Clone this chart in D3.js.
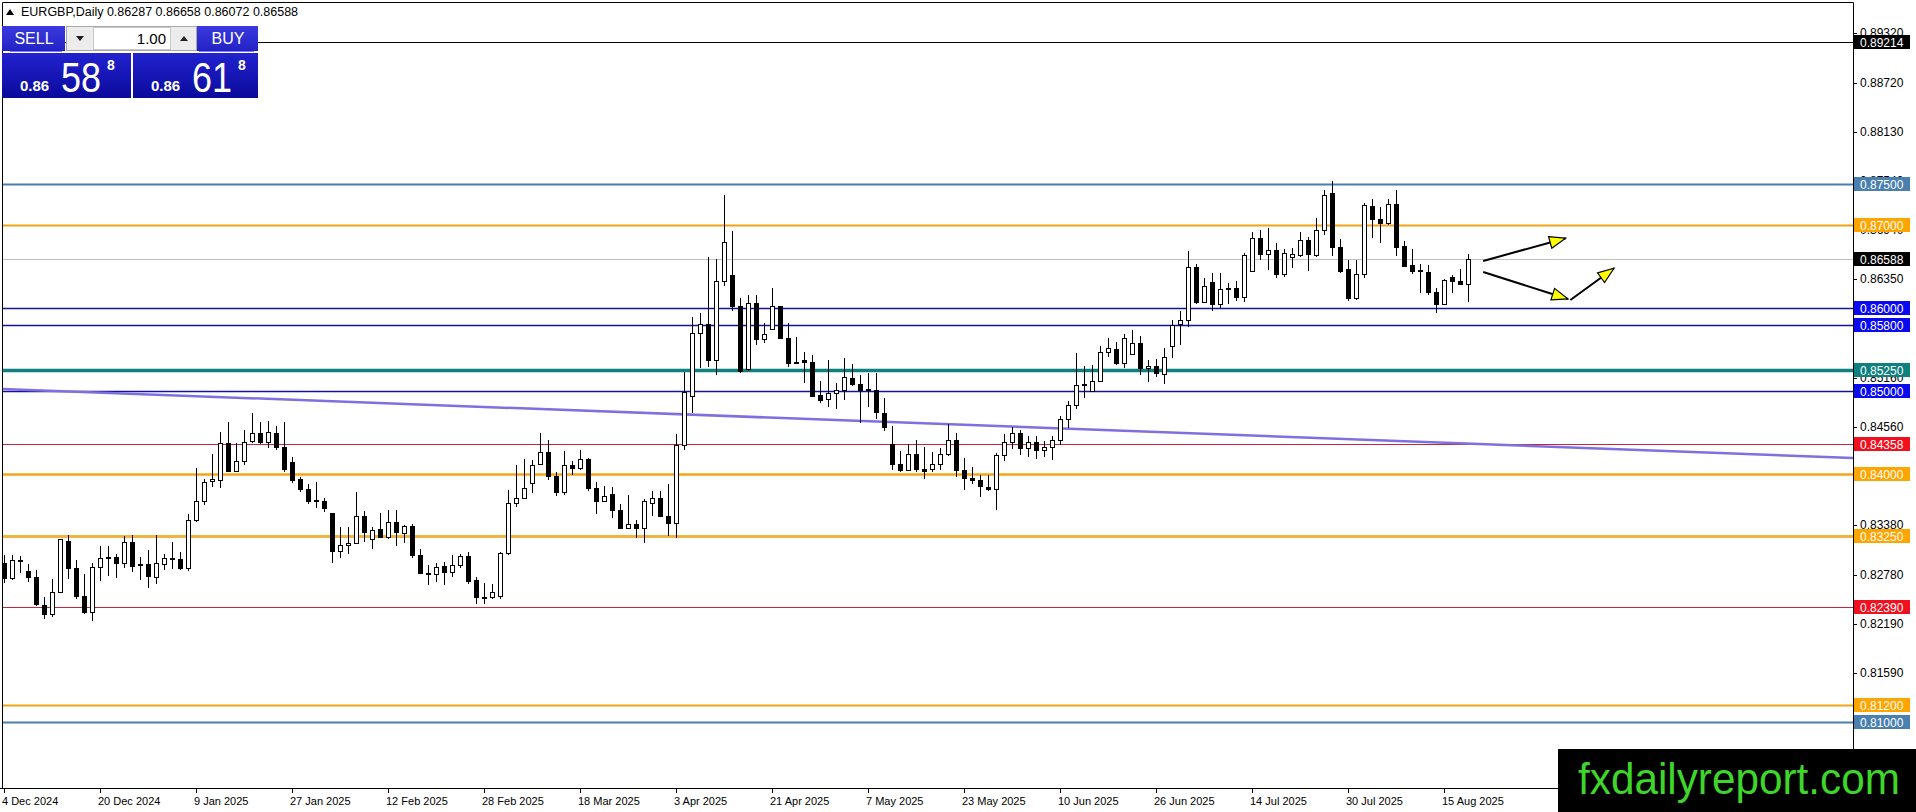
<!DOCTYPE html>
<html>
<head>
<meta charset="utf-8">
<script src="https://cdn.jsdelivr.net/npm/d3@7/dist/d3.min.js"></script>
<style>
  html, body { margin: 0; padding: 0; background: #fff; }
  svg { display: block; font-family: "Liberation Sans", Arial, sans-serif; }
</style>
</head>
<body>
<svg id="chart" width="1916" height="812"></svg>
<script>
// EURGBP daily
const symbolTitle = "EURGBP,Daily";
const lastBar = [0.86287, 0.86658, 0.86072, 0.86588]; // O H L C of the last bar

const dateLabels = ["4 Dec 2024", "20 Dec 2024", "9 Jan 2025", "27 Jan 2025", "12 Feb 2025", "28 Feb 2025",
  "18 Mar 2025", "3 Apr 2025", "21 Apr 2025", "7 May 2025", "23 May 2025", "10 Jun 2025",
  "26 Jun 2025", "14 Jul 2025", "30 Jul 2025", "15 Aug 2025"];
const barsPerDateLabel = 12;

const opens = [
  0.82909,0.82736,0.82937,0.82821,0.82748,0.82402,0.82301,0.82563,0.83183,0.82857,
  0.82515,0.82325,0.82869,0.82978,0.82990,0.82917,0.83171,0.82901,0.82897,0.82748,
  0.82905,0.82978,0.82966,0.82857,0.83437,0.83666,0.83900,0.83920,0.84359,0.84025,
  0.84145,0.84387,0.84480,0.84375,0.84488,0.84315,0.84141,0.83924,0.83815,0.83674,
  0.83670,0.83521,0.83058,0.83131,0.83151,0.83485,0.83207,0.83320,0.83231,0.83413,
  0.83272,0.83368,0.83014,0.82800,0.82784,0.82877,0.82804,0.82893,0.82994,0.82704,
  0.82506,0.82502,0.82515,0.83038,0.83642,0.83703,0.83884,0.84113,0.84258,0.83972,
  0.83771,0.84101,0.84065,0.84166,0.83823,0.83666,0.83743,0.83554,0.83340,0.83388,
  0.83340,0.83634,0.83703,0.83481,0.83400,0.84343,0.84931,0.85688,0.85801,0.85366,
  0.86324,0.86389,0.86022,0.85253,0.86058,0.85623,0.85744,0.86026,0.85635,0.85345,
  0.85362,0.85345,0.84939,0.84898,0.84971,0.85011,0.85152,0.85080,0.85019,0.85011,
  0.84729,0.84347,0.84117,0.84041,0.84226,0.84053,0.84045,0.84113,0.84234,0.84399,
  0.84041,0.83944,0.83920,0.83835,0.83803,0.84218,0.84380,0.84480,0.84300,0.84380,
  0.84280,0.84320,0.84400,0.84650,0.84820,0.85080,0.84999,0.85116,0.85466,0.85503,
  0.85329,0.85442,0.85575,0.85265,0.85293,0.85201,0.85535,0.85805,0.85849,0.86493,
  0.86066,0.86312,0.86046,0.86231,0.86239,0.86131,0.86441,0.86844,0.86650,0.86695,
  0.86401,0.86614,0.86642,0.86823,0.86642,0.86944,0.87387,0.86735,0.86461,0.86119,
  0.86401,0.87234,0.87077,0.87025,0.87254,0.86743,0.86521,0.86453,0.86433,0.86191,
  0.86046,0.86372,0.86328,0.86287
];
const highs = [
  0.83018,0.83018,0.83006,0.82909,0.82837,0.82515,0.82724,0.83215,0.83260,0.82957,
  0.82788,0.82925,0.83131,0.83131,0.83026,0.83247,0.83260,0.82998,0.83074,0.83260,
  0.83030,0.83171,0.83050,0.83509,0.84065,0.83932,0.84238,0.84500,0.84621,0.84375,
  0.84524,0.84729,0.84621,0.84637,0.84576,0.84621,0.84198,0.83956,0.83876,0.83896,
  0.83707,0.83525,0.83352,0.83352,0.83779,0.83549,0.83352,0.83521,0.83562,0.83562,
  0.83380,0.83392,0.83090,0.82901,0.82917,0.82929,0.83018,0.83030,0.83058,0.82748,
  0.82684,0.82668,0.83058,0.83803,0.84101,0.84174,0.84166,0.84488,0.84407,0.84025,
  0.84274,0.84158,0.84286,0.84194,0.83896,0.83852,0.83844,0.83634,0.83743,0.83441,
  0.83694,0.83791,0.83791,0.83876,0.84480,0.85233,0.85897,0.85938,0.86622,0.86594,
  0.87367,0.86936,0.86119,0.86159,0.86159,0.85817,0.86239,0.86030,0.85817,0.85647,
  0.85470,0.85430,0.85120,0.85374,0.85092,0.85394,0.85325,0.85192,0.85213,0.85213,
  0.84919,0.84576,0.84274,0.84359,0.84407,0.84327,0.84258,0.84306,0.84596,0.84488,
  0.84186,0.84077,0.83984,0.83984,0.84250,0.84480,0.84560,0.84530,0.84450,0.84460,
  0.84400,0.84460,0.84700,0.84880,0.85454,0.85301,0.85313,0.85543,0.85643,0.85587,
  0.85684,0.85736,0.85664,0.85374,0.85386,0.85515,0.85853,0.85966,0.86691,0.86533,
  0.86360,0.86421,0.86421,0.86308,0.86328,0.86662,0.86924,0.86944,0.86972,0.86783,
  0.86715,0.86731,0.86924,0.86864,0.87093,0.87427,0.87536,0.86836,0.86582,0.86582,
  0.87266,0.87315,0.87218,0.87315,0.87427,0.86811,0.86715,0.86529,0.86521,0.86239,
  0.86352,0.86401,0.86469,0.86658
];
const lows = [
  0.82684,0.82712,0.82796,0.82696,0.82402,0.82249,0.82273,0.82555,0.82728,0.82490,
  0.82301,0.82225,0.82708,0.82768,0.82736,0.82865,0.82817,0.82716,0.82623,0.82672,
  0.82837,0.82849,0.82837,0.82829,0.83417,0.83618,0.83835,0.83823,0.84020,0.84020,
  0.84105,0.84375,0.84355,0.84315,0.84286,0.84025,0.83892,0.83783,0.83638,0.83590,
  0.83541,0.82917,0.82978,0.83030,0.83145,0.83179,0.83094,0.83219,0.83207,0.83131,
  0.83159,0.82978,0.82790,0.82651,0.82696,0.82651,0.82756,0.82857,0.82664,0.82422,
  0.82422,0.82486,0.82486,0.83018,0.83594,0.83699,0.83771,0.84113,0.83924,0.83731,
  0.83743,0.83980,0.84045,0.83795,0.83509,0.83662,0.83461,0.83335,0.83332,0.83227,
  0.83159,0.83493,0.83478,0.83251,0.83227,0.84286,0.84738,0.85281,0.85293,0.85193,
  0.86272,0.85970,0.85221,0.85241,0.85555,0.85575,0.85736,0.85623,0.85293,0.85325,
  0.85100,0.84925,0.84858,0.84810,0.84786,0.84890,0.85064,0.84609,0.84810,0.84657,
  0.84520,0.84045,0.84025,0.84033,0.84025,0.83932,0.84025,0.84045,0.84218,0.83964,
  0.83803,0.83872,0.83723,0.83795,0.83560,0.84150,0.84300,0.84220,0.84200,0.84180,
  0.84200,0.84160,0.84350,0.84550,0.84780,0.84919,0.84983,0.85116,0.85406,0.85313,
  0.85273,0.85434,0.85192,0.85112,0.85172,0.85080,0.85394,0.85555,0.85768,0.86046,
  0.86058,0.85966,0.86006,0.86046,0.86086,0.86078,0.86433,0.86582,0.86461,0.86360,
  0.86380,0.86489,0.86622,0.86453,0.86622,0.86884,0.86634,0.86421,0.86086,0.86099,
  0.86368,0.86852,0.86783,0.87005,0.86630,0.86497,0.86413,0.86179,0.86159,0.85946,
  0.86038,0.86179,0.86284,0.86072
];
const closes = [
  0.82736,0.82953,0.82953,0.82748,0.82418,0.82301,0.82563,0.83207,0.82857,0.82515,
  0.82321,0.82869,0.82978,0.82990,0.82913,0.83171,0.82877,0.82893,0.82756,0.82909,
  0.82978,0.82962,0.82849,0.83437,0.83666,0.83892,0.83924,0.84359,0.84025,0.84149,
  0.84375,0.84480,0.84375,0.84500,0.84315,0.84045,0.83916,0.83803,0.83662,0.83666,
  0.83578,0.83058,0.83135,0.83159,0.83485,0.83288,0.83312,0.83227,0.83413,0.83288,
  0.83368,0.83010,0.82792,0.82792,0.82869,0.82808,0.82893,0.82994,0.82696,0.82506,
  0.82498,0.82563,0.83030,0.83642,0.83703,0.83823,0.84101,0.84258,0.83964,0.83771,
  0.84101,0.84061,0.84166,0.83823,0.83662,0.83723,0.83554,0.83340,0.83388,0.83340,
  0.83662,0.83703,0.83481,0.83400,0.84343,0.84983,0.85688,0.85801,0.85366,0.86324,
  0.86795,0.86018,0.85233,0.86058,0.85623,0.85676,0.86026,0.85631,0.85333,0.85333,
  0.85345,0.84931,0.84886,0.84971,0.85011,0.85164,0.85080,0.85011,0.85003,0.84737,
  0.84556,0.84113,0.84033,0.84226,0.84045,0.84021,0.84113,0.84234,0.84399,0.84041,
  0.83944,0.83916,0.83843,0.83803,0.84218,0.84380,0.84480,0.84300,0.84380,0.84280,
  0.84320,0.84400,0.84650,0.84820,0.85064,0.85064,0.85112,0.85466,0.85515,0.85329,
  0.85635,0.85575,0.85273,0.85293,0.85213,0.85406,0.85789,0.85849,0.86493,0.86066,
  0.86264,0.86046,0.86227,0.86239,0.86131,0.86642,0.86844,0.86650,0.86695,0.86401,
  0.86662,0.86650,0.86823,0.86650,0.86944,0.87359,0.86735,0.86441,0.86111,0.86401,
  0.87246,0.87073,0.87025,0.87254,0.86735,0.86501,0.86441,0.86445,0.86191,0.86046,
  0.86332,0.86320,0.86288,0.86588
];

// right price scale ticks
const axisTicks = [0.89320, 0.88720, 0.88130, 0.87540, 0.86940, 0.86350, 0.85760,
  0.85160, 0.84560, 0.83970, 0.83380, 0.82780, 0.82190, 0.81590];

// horizontal levels drawn on the chart
const levelPrices = [0.89214, 0.87500, 0.87000, 0.86000, 0.85800, 0.85250, 0.85000,
  0.84358, 0.84000, 0.83250, 0.82390, 0.81200, 0.81000];
const levelLineColors = ["#000000", "#4a7fab", "#f5a418", "#12129a", "#12129a", "#0f7f7f", "#12129a",
  "#c4283a", "#f5a418", "#f0b440", "#c4283a", "#f5a418", "#4a7fab"];
const levelLineWidths = [1, 2, 2, 1.3, 1.3, 3.5, 1.3, 1.2, 2.5, 3, 1.2, 2, 2];
const levelTagColors = ["#000000", "#4a80b0", "#ffa500", "#0a0af0", "#0a0af0", "#0f7f7f", "#0a0af0",
  "#f0101e", "#ffa500", "#ffa500", "#f0101e", "#ffa500", "#4a80b0"];

// trend line anchors (bar index, price)
const trendBars = [0, 231];
const trendPrices = [0.85023, 0.84190];

// hand drawn arrows (bar index, price) -> (bar index, price)
const arrowSegments = [
  [184.9, 0.86570, 195.2, 0.86845],
  [184.9, 0.86437, 195.5, 0.86111],
  [195.8, 0.86099, 201.25, 0.86482]
];

const W = 1916, H = 812;
const plotRight = 1853, plotBottom = 788;

const svg = d3.select("#chart");
const defs = svg.append("defs");

const xScale = d3.scaleLinear().domain([0, 1]).range([4, 12]);
const yScale = d3.scaleLinear().domain([0.875, 0.810]).range([184, 722]);

svg.append("rect").attr("width", W).attr("height", H).attr("fill", "#fff");

defs.append("clipPath").attr("id", "plot-clip")
  .append("rect").attr("x", 2).attr("y", 2).attr("width", plotRight - 2).attr("height", plotBottom - 2);

const plot = svg.append("g").attr("clip-path", "url(#plot-clip)");

// level lines
plot.selectAll("line.level")
  .data(levelPrices)
  .enter().append("line")
  .attr("class", "level")
  .attr("x1", 0).attr("x2", plotRight)
  .attr("y1", d => Math.round(yScale(d)) + 0.5)
  .attr("y2", d => Math.round(yScale(d)) + 0.5)
  .attr("stroke", (d, i) => levelLineColors[i])
  .attr("stroke-width", (d, i) => levelLineWidths[i]);

// trend line, extended across the whole plot
const trendSlope = (trendPrices[1] - trendPrices[0]) / (trendBars[1] - trendBars[0]);
const trendAt = b => trendPrices[0] + (b - trendBars[0]) * trendSlope;
const leftBar = xScale.invert(0), rightBar = xScale.invert(plotRight);
plot.append("line")
  .attr("x1", xScale(leftBar)).attr("y1", yScale(trendAt(leftBar)))
  .attr("x2", xScale(rightBar)).attr("y2", yScale(trendAt(rightBar)))
  .attr("stroke", "#7f6fe0").attr("stroke-width", 2.5);

// bid line
const bid = closes[closes.length - 1];
plot.append("line")
  .attr("x1", 0).attr("x2", plotRight)
  .attr("y1", Math.round(yScale(bid)) + 0.5).attr("y2", Math.round(yScale(bid)) + 0.5)
  .attr("stroke", "#c0c0c0").attr("stroke-width", 1);

// candles
const bars = opens.map((o, i) => ({i: i, o: o, h: highs[i], l: lows[i], c: closes[i]}));
const candle = plot.append("g").attr("shape-rendering", "crispEdges")
  .selectAll("g").data(bars).enter().append("g");

candle.append("line")
  .attr("x1", d => xScale(d.i) + 0.5).attr("x2", d => xScale(d.i) + 0.5)
  .attr("y1", d => yScale(d.h)).attr("y2", d => yScale(d.l))
  .attr("stroke", "#000").attr("stroke-width", 1);

candle.append("rect")
  .attr("x", d => xScale(d.i) - 1.5)
  .attr("width", 4)
  .attr("y", d => yScale(Math.max(d.o, d.c)))
  .attr("height", d => Math.max(1, Math.abs(yScale(d.o) - yScale(d.c))))
  .attr("fill", d => d.c >= d.o ? "#fff" : "#000")
  .attr("stroke", "#000").attr("stroke-width", 1);

// arrows
const head = defs.append("marker")
  .attr("id", "yhead").attr("markerUnits", "userSpaceOnUse")
  .attr("markerWidth", 20).attr("markerHeight", 14)
  .attr("refX", 17).attr("refY", 7).attr("orient", "auto");
head.append("path").attr("d", "M1,1 L17,7 L1,13 Z")
  .attr("fill", "#ffff00").attr("stroke", "#000").attr("stroke-width", 1.2);

svg.append("g").selectAll("line").data(arrowSegments).enter().append("line")
  .attr("x1", d => xScale(d[0])).attr("y1", d => yScale(d[1]))
  .attr("x2", d => xScale(d[2])).attr("y2", d => yScale(d[3]))
  .attr("stroke", "#000").attr("stroke-width", 2)
  .attr("marker-end", "url(#yhead)");

// frame
svg.append("path")
  .attr("d", `M2.5,${plotBottom} V2.5 H${plotRight + 0.5} V${plotBottom}`)
  .attr("fill", "none").attr("stroke", "#000").attr("stroke-width", 1);
svg.append("line").attr("x1", 0).attr("x2", plotRight + 0.5)
  .attr("y1", plotBottom + 0.5).attr("y2", plotBottom + 0.5)
  .attr("stroke", "#000").attr("stroke-width", 1);

// price scale
const axisG = svg.append("g");
axisG.selectAll("line").data(axisTicks).enter().append("line")
  .attr("x1", plotRight).attr("x2", plotRight + 4)
  .attr("y1", d => Math.round(yScale(d)) + 0.5).attr("y2", d => Math.round(yScale(d)) + 0.5)
  .attr("stroke", "#000");
axisG.selectAll("text").data(axisTicks).enter().append("text")
  .attr("x", plotRight + 7).attr("y", d => yScale(d))
  .attr("dominant-baseline", "central")
  .attr("font-size", 12).attr("fill", "#000")
  .text(d => d.toFixed(5));

// price tags on the scale
const tags = levelPrices.map((p, i) => ({p: p, bg: levelTagColors[i]}))
  .concat([{p: bid, bg: "#000"}]);
const tagG = svg.append("g").selectAll("g").data(tags).enter().append("g")
  .attr("transform", d => `translate(${plotRight + 1},${Math.round(yScale(d.p))})`);
tagG.append("rect").attr("x", 0).attr("y", -7).attr("width", 56).attr("height", 14)
  .attr("fill", d => d.bg);
tagG.append("text").attr("x", 6).attr("y", 0.5)
  .attr("dominant-baseline", "central")
  .attr("font-size", 12).attr("fill", "#fff")
  .text(d => d.p.toFixed(5));

// time scale
const dateG = svg.append("g").selectAll("g").data(dateLabels).enter().append("g")
  .attr("transform", (d, i) => `translate(${xScale(i * barsPerDateLabel)},0)`);
dateG.append("line").attr("x1", 0.5).attr("x2", 0.5)
  .attr("y1", plotBottom + 1).attr("y2", plotBottom + 5).attr("stroke", "#000");
dateG.append("text").attr("x", -2).attr("y", 801)
  .attr("dominant-baseline", "central").attr("font-size", 11).attr("fill", "#000")
  .text(d => d);

// title
svg.append("path").attr("d", "M6,15 L10,9 L14,15 Z").attr("fill", "#000");
svg.append("text").attr("x", 21).attr("y", 16).attr("font-size", 12.5).attr("fill", "#000")
  .text(`${symbolTitle}  ${lastBar.map(v => v.toFixed(5)).join(" ")}`);

// one click trading panel
const btnGrad = defs.append("linearGradient").attr("id", "btn").attr("x1", 0).attr("y1", 0).attr("x2", 0).attr("y2", 1);
btnGrad.append("stop").attr("offset", 0).attr("stop-color", "#3a3ae0");
btnGrad.append("stop").attr("offset", 1).attr("stop-color", "#2222c4");
const priceGrad = defs.append("linearGradient").attr("id", "pbox").attr("x1", 0).attr("y1", 0).attr("x2", 0).attr("y2", 1);
priceGrad.append("stop").attr("offset", 0).attr("stop-color", "#2222d0");
priceGrad.append("stop").attr("offset", 1).attr("stop-color", "#0a0a9c");

const panel = svg.append("g");
panel.append("rect").attr("x", 2).attr("y", 26).attr("width", 63).attr("height", 25).attr("fill", "url(#btn)");
panel.append("rect").attr("x", 197).attr("y", 26).attr("width", 61).attr("height", 25).attr("fill", "url(#btn)");
panel.append("line").attr("x1", 10).attr("x2", 62).attr("y1", 51.5).attr("y2", 51.5).attr("stroke", "#7a7aff");
panel.append("line").attr("x1", 199).attr("x2", 254).attr("y1", 51.5).attr("y2", 51.5).attr("stroke", "#7a7aff");
panel.append("text").attr("x", 34).attr("y", 44).attr("text-anchor", "middle")
  .attr("font-size", 16).attr("fill", "#fff").text("SELL");
panel.append("text").attr("x", 228).attr("y", 44).attr("text-anchor", "middle")
  .attr("font-size", 16).attr("fill", "#fff").text("BUY");

panel.append("rect").attr("x", 66.5).attr("y", 26.5).attr("width", 130).attr("height", 24)
  .attr("fill", "#ececec").attr("stroke", "#a8a8a8");
panel.append("rect").attr("x", 93.5).attr("y", 27.5).attr("width", 77).attr("height", 22)
  .attr("fill", "#fff").attr("stroke", "#c8c8c8");
panel.append("path").attr("d", "M76,36 L84,36 L80,41 Z").attr("fill", "#222");
panel.append("path").attr("d", "M180,41 L188,41 L184,36 Z").attr("fill", "#222");
panel.append("text").attr("x", 166).attr("y", 44).attr("text-anchor", "end")
  .attr("font-size", 15).attr("fill", "#000").text("1.00");

const quotes = [{x: 2, w: 129, big: "58"}, {x: 133, w: 125, big: "61"}];
const q = panel.selectAll("g.quote").data(quotes).enter().append("g")
  .attr("transform", d => `translate(${d.x},53)`);
q.append("rect").attr("width", d => d.w).attr("height", 45).attr("fill", "url(#pbox)");
q.append("text").attr("x", 18).attr("y", 38).attr("font-size", 15).attr("font-weight", "bold")
  .attr("fill", "#fff").text("0.86");
q.append("text").attr("x", 59).attr("y", 39).attr("font-size", 42)
  .attr("textLength", 40).attr("lengthAdjust", "spacingAndGlyphs")
  .attr("fill", "#fff").text(d => d.big);
q.append("text").attr("x", 105).attr("y", 17).attr("font-size", 14).attr("font-weight", "bold")
  .attr("fill", "#fff").text("8");

// watermark
svg.append("rect").attr("x", 1558).attr("y", 749).attr("width", W - 1558).attr("height", H - 749).attr("fill", "#000");
svg.append("text").attr("x", 1578).attr("y", 794)
  .attr("font-family", "'Liberation Sans Narrow', 'Liberation Sans', Arial, sans-serif")
  .attr("font-size", 44).attr("fill", "#3ed62a")
  .attr("textLength", 322).attr("lengthAdjust", "spacingAndGlyphs")
  .text("fxdailyreport.com");
</script>
</body>
</html>
